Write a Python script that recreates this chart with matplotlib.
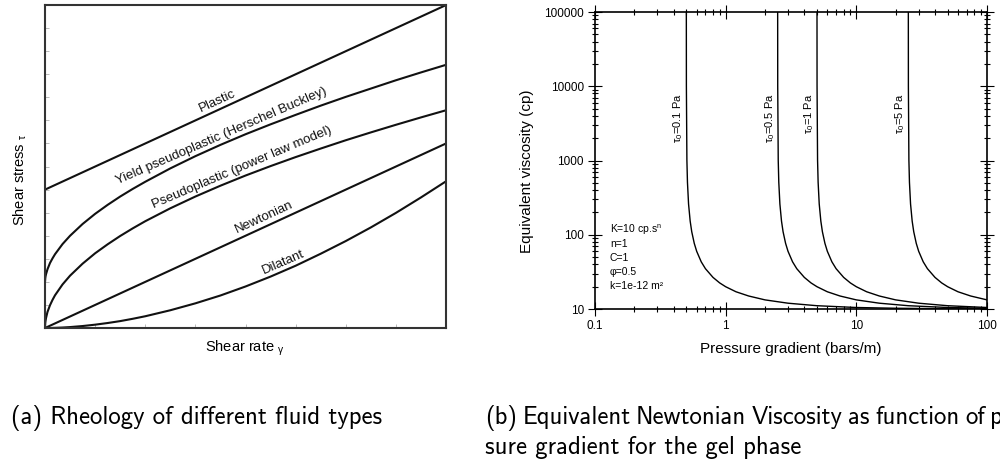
import matplotlib
matplotlib.use("Agg")
import matplotlib.pyplot as plt
import matplotlib.ticker as mtick

plt.rcParams["font.family"] = ["Liberation Sans", "DejaVu Sans"]
plt.rcParams["mathtext.fontset"] = "custom"
plt.rcParams["mathtext.rm"] = "Liberation Sans"
plt.rcParams["mathtext.it"] = "Liberation Sans:italic"
plt.rcParams["mathtext.bf"] = "Liberation Sans:bold"

# ── (a) shear stress vs shear rate, arbitrary units ─────────────────────────
SHEAR_RATE = [0, 0.005, 0.01, 0.02, 0.05, 0.1, 0.15, 0.2, 0.35, 0.5, 0.75, 1, 1.25, 1.5, 1.75,
              2, 2.5, 3, 3.5, 4, 4.5, 5, 5.5, 6, 6.5, 7, 7.5, 8]
PLASTIC = [6.0, 6.005, 6.01, 6.02, 6.05, 6.1, 6.15, 6.2, 6.35, 6.5, 6.75, 7.0, 7.25, 7.5, 7.75,
           8.0, 8.5, 9.0, 9.5, 10.0, 10.5, 11.0, 11.5, 12.0, 12.5, 13.0, 13.5, 14.0]
HERSCHEL = [2.0, 2.15, 2.23, 2.33, 2.55, 2.82, 3.02, 3.20, 3.64, 4.00, 4.51, 4.95, 5.34, 5.70, 6.03,
            6.34, 6.92, 7.45, 7.94, 8.40, 8.83, 9.24, 9.64, 10.02, 10.38, 10.74, 11.08, 11.41]
POWER_LAW = [0.0, 0.21, 0.30, 0.43, 0.70, 0.99, 1.22, 1.42, 1.89, 2.27, 2.79, 3.24, 3.63, 3.99, 4.32,
             4.63, 5.19, 5.70, 6.17, 6.61, 7.02, 7.41, 7.78, 8.14, 8.48, 8.81, 9.13, 9.44]
NEWTONIAN = [0.0, 0.005, 0.01, 0.02, 0.05, 0.1, 0.15, 0.2, 0.35, 0.5, 0.75, 1.0, 1.25, 1.5, 1.75,
             2.0, 2.5, 3.0, 3.5, 4.0, 4.5, 5.0, 5.5, 6.0, 6.5, 7.0, 7.5, 8.0]
DILATANT = [0.0, 0.0, 0.0, 0.0, 0.001, 0.002, 0.005, 0.008, 0.021, 0.041, 0.086, 0.145, 0.217, 0.30, 0.40,
            0.51, 0.77, 1.07, 1.41, 1.80, 2.23, 2.70, 3.22, 3.77, 4.36, 4.99, 5.66, 6.36]

# label text, x, baseline y, rotation (deg)
RHEO_LABELS = [
    ("Plastic", 3.47, 9.72, 24.6),
    ("Yield pseudoplastic (Herschel Buckley)", 3.55, 8.20, 23.4),
    ("Pseudoplastic (power law model)", 3.96, 6.82, 23.0),
    ("Newtonian", 4.39, 4.69, 24.7),
    ("Dilatant", 4.77, 2.71, 23.5),
]

# ── (b) equivalent viscosity (cp) vs pressure gradient (bars/m) ────────────
GRAD_01 = [0.5, 0.5005, 0.505, 0.51, 0.52, 0.535, 0.55, 0.575, 0.6, 0.65, 0.7, 0.8, 0.9, 1.0, 1.2, 1.5, 2, 3, 5, 10, 20, 50, 100]
VISC_01 = [100000, 10010, 1010, 510, 260, 153, 110, 76.7, 60, 43.3, 35, 26.7, 22.5, 20, 17.1, 15, 13.3, 12, 11.1, 10.5, 10.26, 10.1, 10.05]

GRAD_05 = [2.5, 2.5025, 2.525, 2.55, 2.6, 2.675, 2.75, 2.875, 3.0, 3.25, 3.5, 4.0, 4.5, 5.0, 6.0, 7.5, 10, 15, 25, 50, 100]
VISC_05 = [100000, 10010, 1010, 510, 260, 153, 110, 76.7, 60, 43.3, 35, 26.7, 22.5, 20, 17.1, 15, 13.3, 12, 11.1, 10.5, 10.26]

GRAD_1 = [5.0, 5.005, 5.05, 5.1, 5.2, 5.35, 5.5, 5.75, 6.0, 6.5, 7.0, 8.0, 9.0, 10, 12, 15, 20, 30, 50, 100]
VISC_1 = [100000, 10010, 1010, 510, 260, 153, 110, 76.7, 60, 43.3, 35, 26.7, 22.5, 20, 17.1, 15, 13.3, 12, 11.1, 10.5]

GRAD_5 = [25, 25.025, 25.25, 25.5, 26, 26.75, 27.5, 28.75, 30, 32.5, 35, 40, 45, 50, 60, 75, 100]
VISC_5 = [100000, 10010, 1010, 510, 260, 153, 110, 76.7, 60, 43.3, 35, 26.7, 22.5, 20, 17.1, 15, 13.3]

TAU0_CURVES = [
    (r"$\mathregular{\tau_0}$=0.1 Pa", GRAD_01, VISC_01),
    (r"$\mathregular{\tau_0}$=0.5 Pa", GRAD_05, VISC_05),
    (r"$\mathregular{\tau_0}$=1 Pa", GRAD_1, VISC_1),
    (r"$\mathregular{\tau_0}$=5 Pa", GRAD_5, VISC_5),
]

PARAMS = [r"K=10 cp.s$^\mathregular{n}$", "n=1", "C=1", "φ=0.5", "k=1e-12 m²"]

X_TICKS = [0.1, 1, 10, 100]
Y_TICKS = [10, 100, 1000, 10000, 100000]

CAPTION_A = "(a) Rheology of different fluid types"
CAPTION_B1 = "(b) Equivalent Newtonian Viscosity as function of p"
CAPTION_B2 = "sure gradient for the gel phase"

FIG_W, FIG_H = 1000, 462

fig = plt.figure(figsize=(FIG_W / 100, FIG_H / 100), dpi=100)
fig.patch.set_facecolor("white")

# ── panel (a) ────────────────────────────────────────────────────────────────
ax1 = fig.add_axes([0.045, 0.290, 0.401, 0.699])
for ys in (PLASTIC, HERSCHEL, POWER_LAW, NEWTONIAN, DILATANT):
    ax1.plot(SHEAR_RATE, ys, color="#111111", lw=1.5, solid_capstyle="butt")
for text, x, y, rot in RHEO_LABELS:
    ax1.text(x, y, text, rotation=rot, rotation_mode="anchor",
             ha="center", va="baseline", fontsize=9.5, color="#111111")
ax1.set_xlim(0, 8)
ax1.set_ylim(0, 14)
ax1.set_xticks(range(0, 9))
ax1.set_yticks(range(0, 15))
ax1.tick_params(direction="in", length=3, width=0.6, color="#b0b0b0",
                labelleft=False, labelbottom=False)
for sp in ax1.spines.values():
    sp.set_linewidth(1.5)
    sp.set_color("#333333")

fig.text(0.020, 1 - 180 / FIG_H, r"Shear stress $\mathregular{{}_{\tau}}$",
         rotation=90, ha="center", va="center", fontsize=10.5)
fig.text(0.245, 1 - 348 / FIG_H, r"Shear rate $\mathregular{{}_{\gamma}}$",
         ha="center", va="center", fontsize=10.5)

# ── panel (b) ────────────────────────────────────────────────────────────────
ax2 = fig.add_axes([0.595, 0.331, 0.392, 0.643])
for label, gx, vy in TAU0_CURVES:
    ax2.plot(gx, vy, color="black", lw=1.0)
    ax2.text(gx[0] * 0.985, 8000, label, rotation=90, ha="right", va="top",
             fontsize=8)
ax2.set_xscale("log")
ax2.set_yscale("log")
ax2.set_xlim(0.1, 100)
ax2.set_ylim(10, 100000)
ax2.set_xticks(X_TICKS)
ax2.set_yticks(Y_TICKS)
ax2.xaxis.set_major_formatter(mtick.FuncFormatter(lambda v, p: f"{v:g}"))
ax2.yaxis.set_major_formatter(mtick.FuncFormatter(lambda v, p: f"{v:.0f}"))
ax2.xaxis.set_minor_locator(mtick.LogLocator(base=10, subs=range(2, 10)))
ax2.yaxis.set_minor_locator(mtick.LogLocator(base=10, subs=range(2, 10)))
ax2.xaxis.set_minor_formatter(mtick.NullFormatter())
ax2.yaxis.set_minor_formatter(mtick.NullFormatter())
ax2.tick_params(which="both", direction="inout", top=True, right=True,
                labelsize=8.5, width=0.8)
ax2.tick_params(which="major", length=10, pad=3)
ax2.tick_params(which="minor", length=5)
for sp in ax2.spines.values():
    sp.set_linewidth(1.2)

for i, line in enumerate(PARAMS):
    ax2.text(0.038, 0.267 - i * 0.047, line, transform=ax2.transAxes,
             ha="left", va="center", fontsize=7.5)

fig.text(0.5275, 1 - 171 / FIG_H, "Equivalent viscosity (cp)", rotation=90,
         ha="center", va="center", fontsize=11)
fig.text(0.791, 1 - 349 / FIG_H, "Pressure gradient (bars/m)",
         ha="center", va="center", fontsize=11)

# ── sub-captions ────────────────────────────────────────────────────────────
cap = dict(fontfamily="cmss10", fontsize=17.8, ha="left", va="baseline")
fig.text(0.011, 1 - 424 / FIG_H, CAPTION_A, **cap)

# first line of (b) is justified: words set with tighter spacing
renderer = fig.canvas.get_renderer()
x_px = 485
for word in CAPTION_B1.split(" "):
    t = fig.text(x_px / FIG_W, 1 - 424 / FIG_H, word, **cap)
    x_px += t.get_window_extent(renderer).width + 5.5
fig.text(0.485, 1 - 454 / FIG_H, CAPTION_B2, **cap)

fig.savefig("out.png", dpi=100, facecolor="white")
